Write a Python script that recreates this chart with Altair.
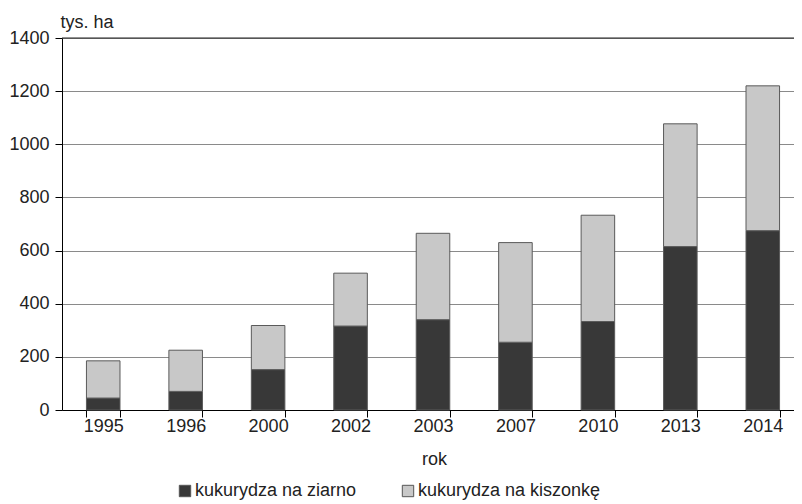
import altair as alt
import pandas as pd

years = ["1995", "1996", "2000", "2002", "2003", "2007", "2010", "2013", "2014"]
ziarno = [45, 70, 152, 316, 340, 255, 333, 615, 675]
kiszonka = [140, 155, 166, 199, 325, 375, 400, 462, 545]
series = ["kukurydza na ziarno", "kukurydza na kiszonkę"]

rows = []
for i, y in enumerate(years):
    rows.append({"rok": y, "seria": series[0], "v": ziarno[i], "o": 0})
    rows.append({"rok": y, "seria": series[1], "v": kiszonka[i], "o": 1})
df = pd.DataFrame(rows)

FONT = "Liberation Sans"

bars = alt.Chart(df).mark_bar(stroke="#5a5a5a", strokeWidth=1).encode(
    x=alt.X("rok:N", sort=years,
            scale=alt.Scale(paddingInner=0.593, paddingOuter=0.2965, range=[0, 742]),
            axis=alt.Axis(title="rok", labelAngle=0, tickBand="extent", tickSize=7,
                          labelPadding=0, titlePadding=15, labelFontSize=18,
                          titleFontSize=18, titleFontWeight="normal", titleX=372,
                          domainColor="black", tickColor="black", labelColor="#222",
                          titleColor="#222")),
    y=alt.Y("v:Q", stack="zero",
            scale=alt.Scale(domain=[0, 1400], nice=False),
            axis=alt.Axis(values=[0, 200, 400, 600, 800, 1000, 1200, 1400], format="d",
                          title="tys. ha", titleAngle=0, titleAlign="left",
                          titleBaseline="alphabetic", titleX=-2, titleY=-11,
                          titleFontSize=18, titleFontWeight="normal",
                          labelFontSize=18, labelPadding=6, tickSize=7,
                          gridColor="#8a8a8a", domainColor="black", tickColor="black",
                          labelColor="#222", titleColor="#222")),
    color=alt.Color("seria:N", sort=series,
                    scale=alt.Scale(domain=series, range=["#383838", "#c8c8c8"]),
                    legend=alt.Legend(title=None, orient="none", direction="horizontal",
                                      legendX=114, legendY=444, symbolType="square",
                                      symbolSize=130, symbolStrokeColor="#555",
                                      symbolStrokeWidth=1, labelFontSize=18,
                                      labelColor="#222", columnPadding=42,
                                      labelOffset=1, labelLimit=400)),
    order=alt.Order("o:Q"),
)

top = alt.Chart(pd.DataFrame({"y": [1400]})).mark_rule(color="#222", strokeWidth=1).encode(
    y=alt.Y("y:Q")
)

chart = alt.layer(bars, top).properties(
    width=732, height=372,
    autosize=alt.AutoSizeParams(type="none"),
    padding={"left": 54, "top": 30, "right": 0, "bottom": 92},
).configure_view(stroke=None).configure(font=FONT)

chart.save("out.html", embed_options={"renderer": "svg", "actions": False})
